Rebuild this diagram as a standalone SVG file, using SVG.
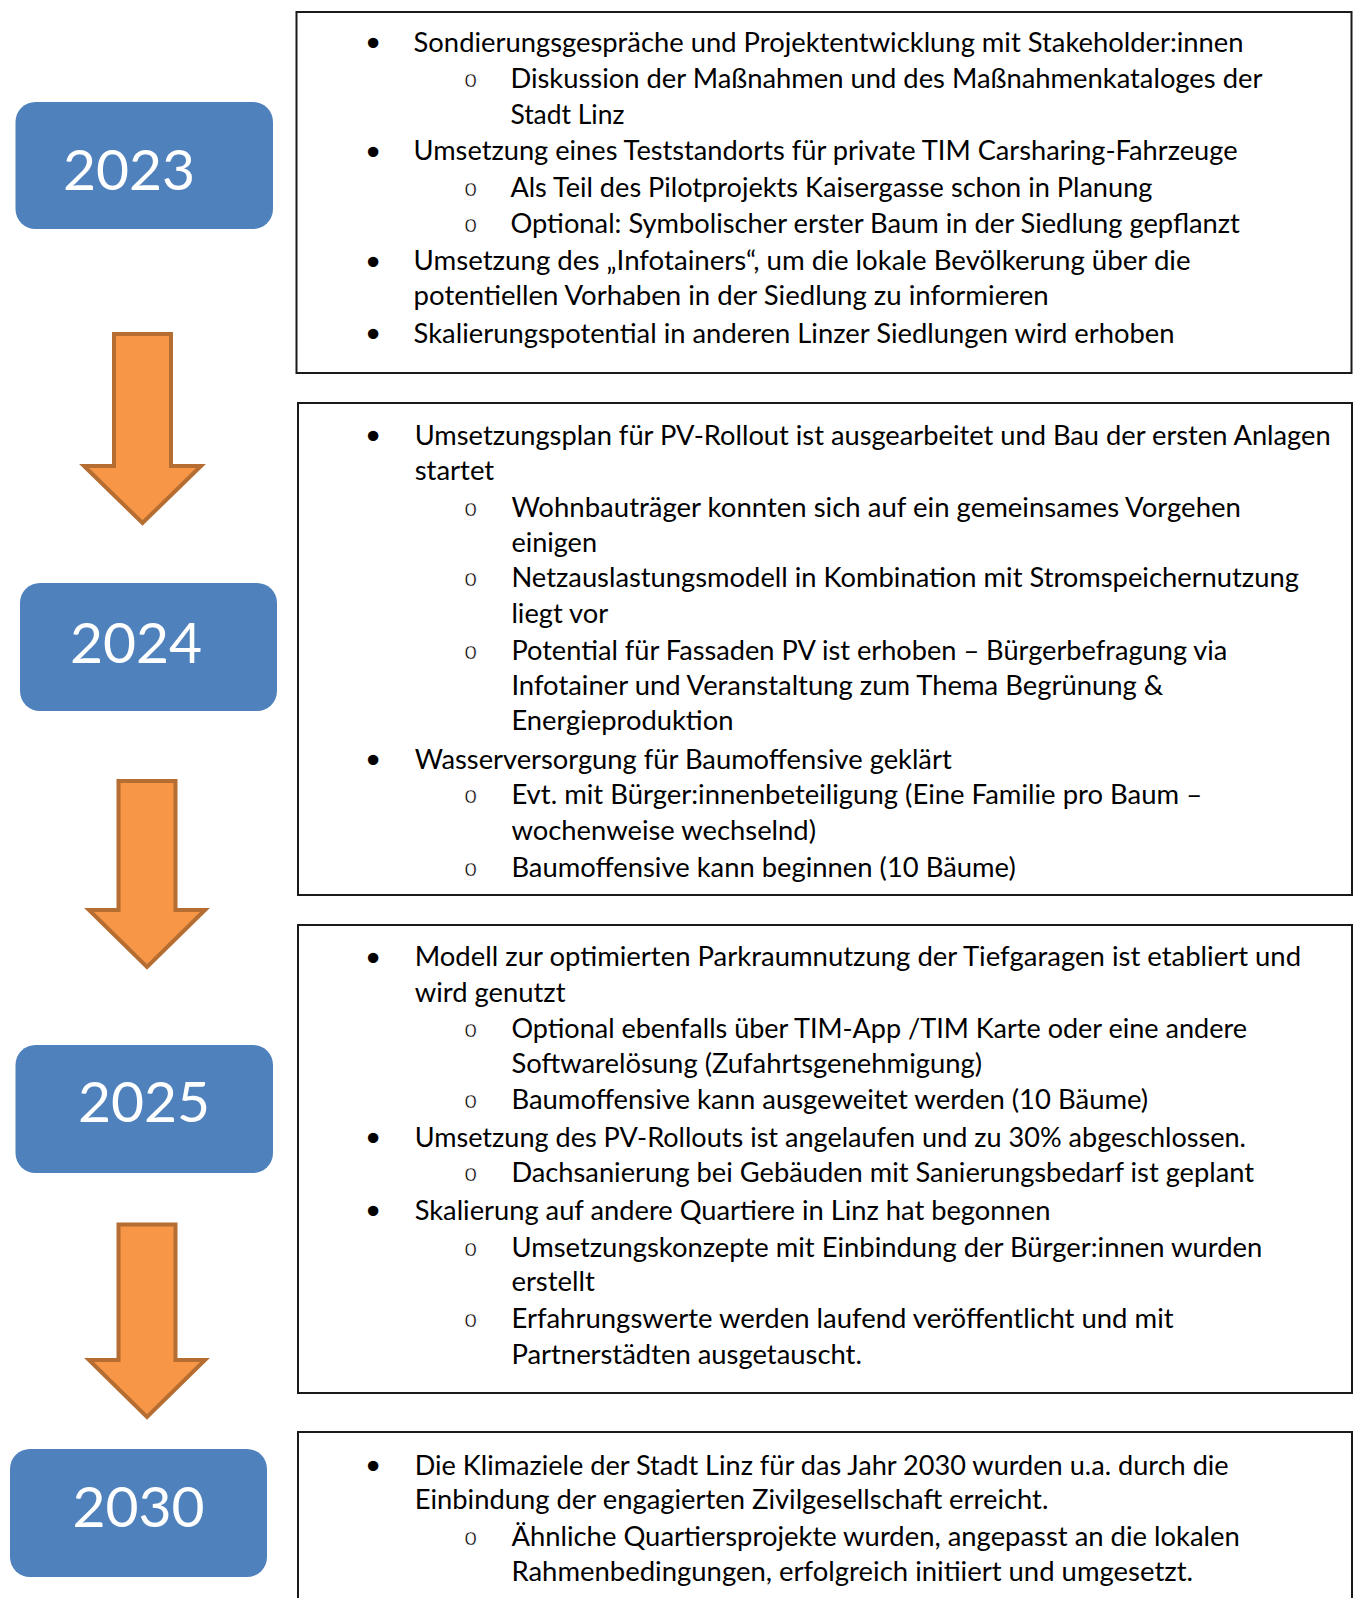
<svg xmlns="http://www.w3.org/2000/svg" width="1354" height="1598" viewBox="0 0 1354 1598">
<style>
.t{font-family:Lato,"Liberation Sans",sans-serif;font-size:27px;fill:#000}
.bl{font-family:"DejaVu Sans",sans-serif;font-size:36px;fill:#000;text-anchor:middle}
.o{font-family:"Liberation Sans",sans-serif;font-size:23px;fill:#000;stroke:#fff;stroke-width:0.6;text-anchor:middle}
.yr{font-family:Lato,"Liberation Sans",sans-serif;font-size:57px;fill:#fff;text-anchor:middle}
.yb{fill:#4F81BD}
.box{fill:#fff;stroke:#1a1a1a;stroke-width:2}
.arr{fill:#F79646;stroke:#B66D31;stroke-width:4;stroke-linejoin:miter}
</style>
<rect width="1354" height="1598" fill="#fff"/>
<g id="connectors">
<path class="arr" d="M114,334 H171 V466 H201 L142.5,523 L84,466 H114 Z"/>
<path class="arr" d="M118.5,781 H175.5 V910 H205 L147,967 L89,910 H118.5 Z"/>
<path class="arr" d="M118.5,1224.5 H175.5 V1360 H205 L147,1417 L89,1360 H118.5 Z"/>
</g>
<g id="year2023"><rect class="yb" x="15.5" y="102" width="257.5" height="127" rx="20"/><text class="yr" x="129" y="190">2023</text></g>
<g id="year2024"><rect class="yb" x="20" y="583" width="257" height="128" rx="20"/><text class="yr" x="136" y="663">2024</text></g>
<g id="year2025"><rect class="yb" x="15.5" y="1045" width="257.5" height="128" rx="20"/><text class="yr" x="144" y="1122">2025</text></g>
<g id="year2030"><rect class="yb" x="10" y="1449" width="257" height="128" rx="20"/><text class="yr" x="138.5" y="1527">2030</text></g>
<g id="box2023">
<rect class="box" x="296.5" y="12" width="1055" height="361"/>
<text class="bl" x="373" y="56">•</text>
<text class="t" x="413.6" y="51.5" textLength="830" lengthAdjust="spacingAndGlyphs">Sondierungsgespräche und Projektentwicklung mit Stakeholder:innen</text>
<text class="o" x="470.7" y="87">o</text>
<text class="t" x="510.4" y="88" textLength="752" lengthAdjust="spacingAndGlyphs">Diskussion der Maßnahmen und des Maßnahmenkataloges der</text>
<text class="t" x="510.4" y="123.5" textLength="114" lengthAdjust="spacingAndGlyphs">Stadt Linz</text>
<text class="bl" x="373" y="164.8">•</text>
<text class="t" x="413.6" y="160.3" textLength="824" lengthAdjust="spacingAndGlyphs">Umsetzung eines Teststandorts für private TIM Carsharing-Fahrzeuge</text>
<text class="o" x="470.7" y="196">o</text>
<text class="t" x="510.4" y="197" textLength="642" lengthAdjust="spacingAndGlyphs">Als Teil des Pilotprojekts Kaisergasse schon in Planung</text>
<text class="o" x="470.7" y="231.6">o</text>
<text class="t" x="510.4" y="232.6" textLength="729.5" lengthAdjust="spacingAndGlyphs">Optional: Symbolischer erster Baum in der Siedlung gepflanzt</text>
<text class="bl" x="373" y="274.8">•</text>
<text class="t" x="413.6" y="270.3" textLength="777" lengthAdjust="spacingAndGlyphs">Umsetzung des „Infotainers“, um die lokale Bevölkerung über die</text>
<text class="t" x="413.6" y="305" textLength="635" lengthAdjust="spacingAndGlyphs">potentiellen Vorhaben in der Siedlung zu informieren</text>
<text class="bl" x="373" y="347.1">•</text>
<text class="t" x="413.6" y="342.6" textLength="761" lengthAdjust="spacingAndGlyphs">Skalierungspotential in anderen Linzer Siedlungen wird erhoben</text>
</g>
<g id="box2024">
<rect class="box" x="298" y="403" width="1054" height="492"/>
<text class="bl" x="373" y="449">•</text>
<text class="t" x="414.7" y="444.5" textLength="916" lengthAdjust="spacingAndGlyphs">Umsetzungsplan für PV-Rollout ist ausgearbeitet und Bau der ersten Anlagen</text>
<text class="t" x="414.7" y="480.2" textLength="79.5" lengthAdjust="spacingAndGlyphs">startet</text>
<text class="o" x="470.7" y="515.9">o</text>
<text class="t" x="511.4" y="516.9" textLength="729.5" lengthAdjust="spacingAndGlyphs">Wohnbauträger konnten sich auf ein gemeinsames Vorgehen</text>
<text class="t" x="511.4" y="551.5" textLength="85.6" lengthAdjust="spacingAndGlyphs">einigen</text>
<text class="o" x="470.7" y="586.2">o</text>
<text class="t" x="511.4" y="587.2" textLength="787.5" lengthAdjust="spacingAndGlyphs">Netzauslastungsmodell in Kombination mit Stromspeichernutzung</text>
<text class="t" x="511.4" y="622.8" textLength="96.8" lengthAdjust="spacingAndGlyphs">liegt vor</text>
<text class="o" x="470.7" y="658.5">o</text>
<text class="t" x="511.4" y="659.5" textLength="716" lengthAdjust="spacingAndGlyphs">Potential für Fassaden PV ist erhoben – Bürgerbefragung via</text>
<text class="t" x="511.4" y="695.1" textLength="652" lengthAdjust="spacingAndGlyphs">Infotainer und Veranstaltung zum Thema Begrünung &amp;</text>
<text class="t" x="511.4" y="729.8" textLength="222" lengthAdjust="spacingAndGlyphs">Energieproduktion</text>
<text class="bl" x="373" y="773">•</text>
<text class="t" x="414.7" y="768.5" textLength="537" lengthAdjust="spacingAndGlyphs">Wasserversorgung für Baumoffensive geklärt</text>
<text class="o" x="470.7" y="803.2">o</text>
<text class="t" x="511.4" y="804.2" textLength="690.7" lengthAdjust="spacingAndGlyphs">Evt. mit Bürger:innenbeteiligung (Eine Familie pro Baum –</text>
<text class="t" x="511.4" y="839.8" textLength="304.6" lengthAdjust="spacingAndGlyphs">wochenweise wechselnd)</text>
<text class="o" x="470.7" y="875.5">o</text>
<text class="t" x="511.4" y="876.5" textLength="504.3" lengthAdjust="spacingAndGlyphs">Baumoffensive kann beginnen (10 Bäume)</text>
</g>
<g id="box2025">
<rect class="box" x="298" y="925" width="1054" height="468"/>
<text class="bl" x="373" y="970.6">•</text>
<text class="t" x="414.7" y="966.1" textLength="886.4" lengthAdjust="spacingAndGlyphs">Modell zur optimierten Parkraumnutzung der Tiefgaragen ist etabliert und</text>
<text class="t" x="414.7" y="1001.8" textLength="150.8" lengthAdjust="spacingAndGlyphs">wird genutzt</text>
<text class="o" x="470.7" y="1036.5">o</text>
<text class="t" x="511.4" y="1037.5" textLength="735.6" lengthAdjust="spacingAndGlyphs">Optional ebenfalls über TIM-App /TIM Karte oder eine andere</text>
<text class="t" x="511.4" y="1073.1" textLength="470.7" lengthAdjust="spacingAndGlyphs">Softwarelösung (Zufahrtsgenehmigung)</text>
<text class="o" x="470.7" y="1107.8">o</text>
<text class="t" x="511.4" y="1108.8" textLength="636.8" lengthAdjust="spacingAndGlyphs">Baumoffensive kann ausgeweitet werden (10 Bäume)</text>
<text class="bl" x="373" y="1151">•</text>
<text class="t" x="414.7" y="1146.5" textLength="831.3" lengthAdjust="spacingAndGlyphs">Umsetzung des PV-Rollouts ist angelaufen und zu 30% abgeschlossen.</text>
<text class="o" x="470.7" y="1181.1">o</text>
<text class="t" x="511.4" y="1182.1" textLength="742.7" lengthAdjust="spacingAndGlyphs">Dachsanierung bei Gebäuden mit Sanierungsbedarf ist geplant</text>
<text class="bl" x="373" y="1224.3">•</text>
<text class="t" x="414.7" y="1219.8" textLength="635.7" lengthAdjust="spacingAndGlyphs">Skalierung auf andere Quartiere in Linz hat begonnen</text>
<text class="o" x="470.7" y="1255.5">o</text>
<text class="t" x="511.4" y="1256.5" textLength="750.9" lengthAdjust="spacingAndGlyphs">Umsetzungskonzepte mit Einbindung der Bürger:innen wurden</text>
<text class="t" x="511.4" y="1291.1" textLength="83.5" lengthAdjust="spacingAndGlyphs">erstellt</text>
<text class="o" x="470.7" y="1326.8">o</text>
<text class="t" x="511.4" y="1327.8" textLength="662.2" lengthAdjust="spacingAndGlyphs">Erfahrungswerte werden laufend veröffentlicht und mit</text>
<text class="t" x="511.4" y="1363.5" textLength="350.5" lengthAdjust="spacingAndGlyphs">Partnerstädten ausgetauscht.</text>
</g>
<g id="box2030">
<path class="box" d="M298,1599 V1432 H1352 V1599"/>
<text class="bl" x="373" y="1479">•</text>
<text class="t" x="414.7" y="1474.5" textLength="814" lengthAdjust="spacingAndGlyphs">Die Klimaziele der Stadt Linz für das Jahr 2030 wurden u.a. durch die</text>
<text class="t" x="414.7" y="1509.2" textLength="633.7" lengthAdjust="spacingAndGlyphs">Einbindung der engagierten Zivilgesellschaft erreicht.</text>
<text class="o" x="470.7" y="1544.8">o</text>
<text class="t" x="511.4" y="1545.8" textLength="728.4" lengthAdjust="spacingAndGlyphs">Ähnliche Quartiersprojekte wurden, angepasst an die lokalen</text>
<text class="t" x="511.4" y="1580.5" textLength="681.6" lengthAdjust="spacingAndGlyphs">Rahmenbedingungen, erfolgreich initiiert und umgesetzt.</text>
</g>
</svg>
